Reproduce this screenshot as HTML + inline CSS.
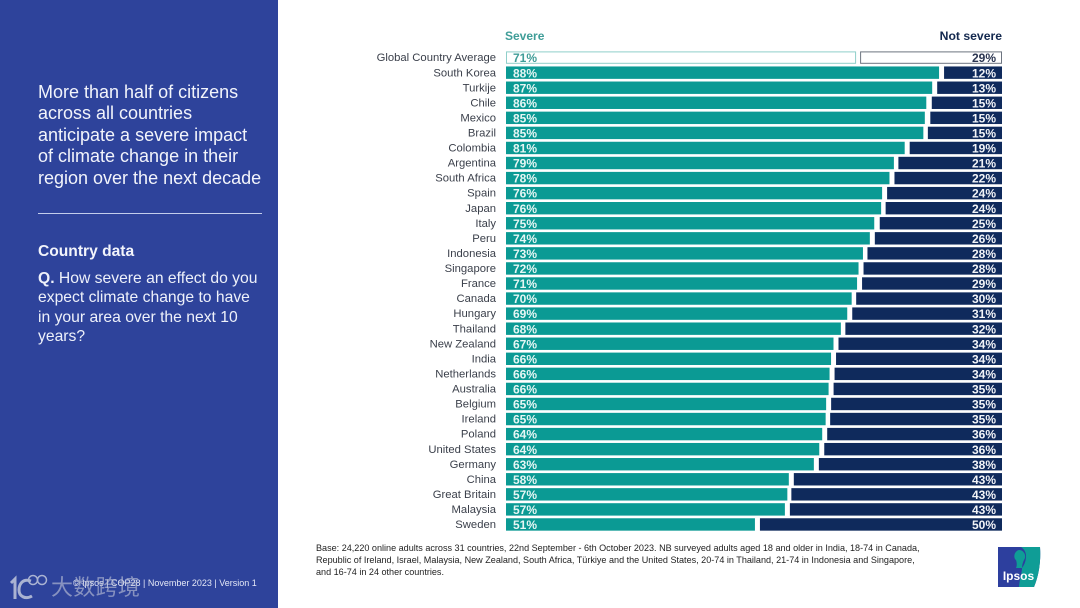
<!DOCTYPE html>
<html lang="en">
<head>
<meta charset="utf-8">
<title>Severity of climate change impact by country</title>
<style>
  html, body { margin: 0; padding: 0; background: #fff; }
  body { width: 1080px; height: 608px; overflow: hidden; position: relative; font-family: "Liberation Sans", "Noto Sans CJK SC", sans-serif; }
  #side-panel { position: absolute; left: 0; top: 0; width: 278px; height: 608px; background: #2e439b; }
  .abs { position: absolute; white-space: nowrap; margin: 0; }
  #chart { position: absolute; left: 0; top: 0; }
</style>
</head>
<body>
<div id="side-panel">
  <h1 class="abs" style="left:38px;top:82px;font-size:18px;line-height:21.4px;font-weight:normal;color:#f2f4fb">More than half of citizens<br>across all countries<br>anticipate a severe impact<br>of climate change in their<br>region over the next decade</h1>
  <div class="abs" style="left:38px;top:213px;width:224px;height:1px;background:#c3cdec"></div>
  <div class="abs" style="left:38px;top:243px;font-size:15.6px;line-height:17px;font-weight:bold;color:#f2f4fb">Country data</div>
  <div class="abs" style="left:38px;top:269px;font-size:15.7px;line-height:19.3px;color:#eef1fa"><b>Q.</b> How severe an effect do you<br>expect climate change to have<br>in your area over the next 10<br>years?</div>
  <div class="abs" style="left:73px;top:578px;font-size:9px;line-height:11px;color:#e4e8f6">© Ipsos | COP28 | November 2023 | Version 1</div>
  <div class="abs" style="left:51px;top:574px;font-size:22px;line-height:28px;letter-spacing:0.3px;color:rgba(190,196,215,0.62)">大数跨境</div>
  <svg class="abs" style="left:8px;top:572px" width="42" height="30" viewBox="0 0 42 30">
    <path d="M3 11 L7 7 L7 27" fill="none" stroke="#aab3d2" stroke-width="3"/>
    <path d="M23 9 C14 6 11 13 11 18 C11 24 17 28 24 24" fill="none" stroke="#aab3d2" stroke-width="3"/>
    <circle cx="25" cy="8" r="4.5" fill="none" stroke="#aab3d2" stroke-width="1.5"/>
    <circle cx="34" cy="8" r="4.5" fill="none" stroke="#aab3d2" stroke-width="1.5"/>
  </svg>
</div>

<svg id="chart" width="1080" height="608" viewBox="0 0 1080 608" style="left:0;top:0">
  <g id="rows"></g>
  <text x="505" y="40" font-size="12" font-weight="bold" fill="#3f9d98">Severe</text>
  <text x="1002" y="40" font-size="12.2" font-weight="bold" fill="#14294f" text-anchor="end">Not severe</text>
</svg>

<div class="abs" style="left:316px;top:542px;font-size:9.07px;line-height:12px;color:#222">Base: 24,220 online adults across 31 countries, 22nd September - 6th October 2023. NB surveyed adults aged 18 and older in India, 18-74 in Canada,<br>Republic of Ireland, Israel, Malaysia, New Zealand, South Africa, Türkiye and the United States, 20-74 in Thailand, 21-74 in Indonesia and Singapore,<br>and 16-74 in 24 other countries.</div>

<svg class="abs" style="left:998px;top:547px" width="43" height="40" viewBox="0 0 43 40">
  <path d="M0 0 H42 C43 14 41 28 36 40 H0 Z" fill="#2d3f9e"/>
  <path d="M23 0 H42 C43 14 41 28 36 40 H21 C22 30 24 26 24 21 C27 17 28 13 28 9 C28 5 26 2 23 0 Z" fill="#0f9d96"/>
  <path d="M21 3 C16 4 15 11 18 13 C19 16 19 19 18 21 H24 C24 18 25 15 26 13 C29 9 26 3 21 3 Z" fill="#0f9d96"/>
  <text x="20.5" y="33" font-size="12" font-weight="bold" fill="#fff" text-anchor="middle">Ipsos</text>
</svg>

<script>
const categories = ["Global Country Average","South Korea","Turkije","Chile","Mexico","Brazil","Colombia","Argentina","South Africa","Spain","Japan","Italy","Peru","Indonesia","Singapore","France","Canada","Hungary","Thailand","New Zealand","India","Netherlands","Australia","Belgium","Ireland","Poland","United States","Germany","China","Great Britain","Malaysia","Sweden"];
const severeValues = [71.3,88.2,86.8,85.6,85.3,85.0,81.2,79.0,78.1,76.6,76.4,75.0,74.1,72.7,71.8,71.5,70.4,69.5,68.2,66.7,66.2,65.9,65.7,65.2,65.1,64.4,63.8,62.7,57.6,57.3,56.8,50.7];
const notSevereValues = [28.9,11.8,13.2,14.3,14.6,15.1,18.8,21.1,21.9,23.4,23.7,24.9,25.9,27.4,28.2,28.5,29.7,30.5,31.9,33.3,33.8,34.1,34.3,34.8,35.0,35.6,36.2,37.3,42.4,42.9,43.2,49.3];
const severeLabels = ["71%","88%","87%","86%","85%","85%","81%","79%","78%","76%","76%","75%","74%","73%","72%","71%","70%","69%","68%","67%","66%","66%","66%","65%","65%","64%","64%","63%","58%","57%","57%","51%"];
const notSevereLabels = ["29%","12%","13%","15%","15%","15%","19%","21%","22%","24%","24%","25%","26%","28%","28%","29%","30%","31%","32%","34%","34%","34%","35%","35%","35%","36%","36%","38%","43%","43%","43%","50%"];

const NS = 'http://www.w3.org/2000/svg';
const plotLeft = 506, plotRight = 1002, unit = 4.91;
const firstRow = 57.6, rowStep = 15.06, barH = 12.4;
const xSevere = v => plotLeft + v * unit;
const xNotSevere = v => plotRight - v * unit;
const yRow = i => firstRow + i * rowStep;
const rows = document.getElementById('rows');

function rect(x, y, w, h, fill, stroke) {
  const r = document.createElementNS(NS, 'rect');
  r.setAttribute('x', x);
  r.setAttribute('y', y);
  r.setAttribute('width', w);
  r.setAttribute('height', h);
  r.setAttribute('fill', fill);
  if (stroke) { r.setAttribute('stroke', stroke); r.setAttribute('stroke-width', 1); }
  rows.appendChild(r);
  return r;
}
function label(x, y, str, size, weight, fill, anchor) {
  const t = document.createElementNS(NS, 'text');
  t.setAttribute('x', x);
  t.setAttribute('y', y);
  t.setAttribute('font-size', size);
  t.setAttribute('font-weight', weight);
  t.setAttribute('fill', fill);
  t.setAttribute('text-anchor', anchor);
  t.textContent = str;
  rows.appendChild(t);
  return t;
}

categories.forEach((name, i) => {
  const cy = yRow(i), top = cy - barH / 2;
  const isAvg = i === 0;
  const sx = xSevere(severeValues[i]);
  const nx = xNotSevere(notSevereValues[i]);

  const cat = label(496, cy + 3.6, name, 11.27, 'normal', '#3a3f4a', 'end');
  
  

  const a = isAvg
    ? rect(plotLeft + 0.5, top + 0.5, sx - plotLeft - 1, barH - 1, '#fff', '#8fcfca')
    : rect(plotLeft, top, sx - plotLeft, barH, '#0b9a94');
  
  

  const b = isAvg
    ? rect(nx + 0.5, top + 0.5, plotRight - nx - 1, barH - 1, '#fff', '#6d7480')
    : rect(nx, top, plotRight - nx, barH, '#0f2a5c');
  
  

  const sv = label(513, cy + 4.6, severeLabels[i], 12, 'bold', isAvg ? '#3f9d98' : '#e6f6f4', 'start');
  
  

  const nv = label(996, cy + 4.6, notSevereLabels[i], 12, 'bold', isAvg ? '#2a3450' : '#f2f4f8', 'end');
  
  
});
</script>
</body>
</html>
